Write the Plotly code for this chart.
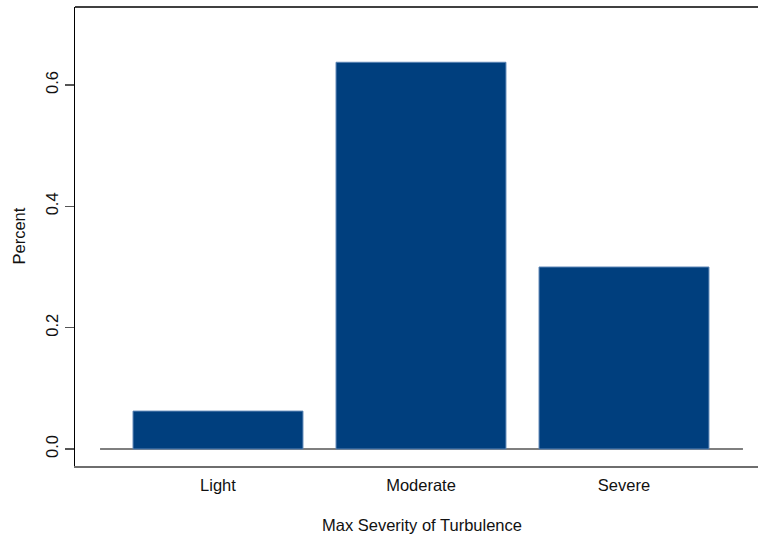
import plotly.graph_objects as go

categories = ["Light", "Moderate", "Severe"]
percent = [0.0625, 0.6375, 0.30]
y_ticks = [0.0, 0.2, 0.4, 0.6]
y_tick_labels = ["0.0", "0.2", "0.4", "0.6"]

FONT = "Liberation Sans, Arial, Helvetica, sans-serif"
xs = list(range(len(categories)))

fig = go.Figure()
fig.add_trace(go.Bar(
    x=xs, y=percent, width=0.837,
    marker=dict(color="#003f7e", line=dict(color="#5a84b4", width=1)),
    showlegend=False, hoverinfo="skip",
))

fig.update_layout(
    width=758, height=540,
    margin=dict(l=75, r=0, t=7, b=74),
    plot_bgcolor="white", paper_bgcolor="white",
    font=dict(family=FONT, size=16.5, color="#111"),
    xaxis=dict(
        range=[-0.7044, 2.6601], tickvals=xs, ticktext=categories,
        showgrid=False, zeroline=False, showline=True,
        linecolor="#6e6e6e", linewidth=1.5,
        ticks="outside", ticklen=4, tickcolor="rgba(0,0,0,0)",
        tickfont=dict(size=16.5),
    ),
    yaxis=dict(
        range=[-0.028, 0.7286], tickvals=y_ticks, ticktext=y_tick_labels,
        tickangle=-90, showgrid=False, zeroline=False, showline=True,
        linecolor="black", linewidth=1.5,
        ticks="outside", ticklen=9, tickcolor="#555", tickwidth=1.5,
        tickfont=dict(size=16.5),
    ),
    shapes=[
        dict(type="line", xref="paper", yref="paper", x0=0, x1=1.05, y0=1, y1=1,
             line=dict(color="black", width=1.5)),
        dict(type="line", xref="x", yref="y", x0=xs[0] - 0.581, x1=xs[-1] + 0.586,
             y0=0, y1=0, line=dict(color="#555", width=1.5), layer="below"),
    ],
    annotations=[
        dict(text="Percent", xref="paper", yref="paper", x=-75/683 + 18/683, y=0.5,
             textangle=-90, showarrow=False, font=dict(size=16.5),
             xanchor="center", yanchor="middle"),
        dict(text="Max Severity of Turbulence", xref="paper", yref="paper",
             x=(422 - 75) / 683, y=-(525 - 466) / 459, showarrow=False,
             font=dict(size=16.5), xanchor="center", yanchor="middle"),
    ],
)

fig.write_html(
    "out.html",
    config={"displayModeBar": False, "staticPlot": True},
    post_script="document.body.style.margin='0';document.body.style.overflow='hidden';",
)
